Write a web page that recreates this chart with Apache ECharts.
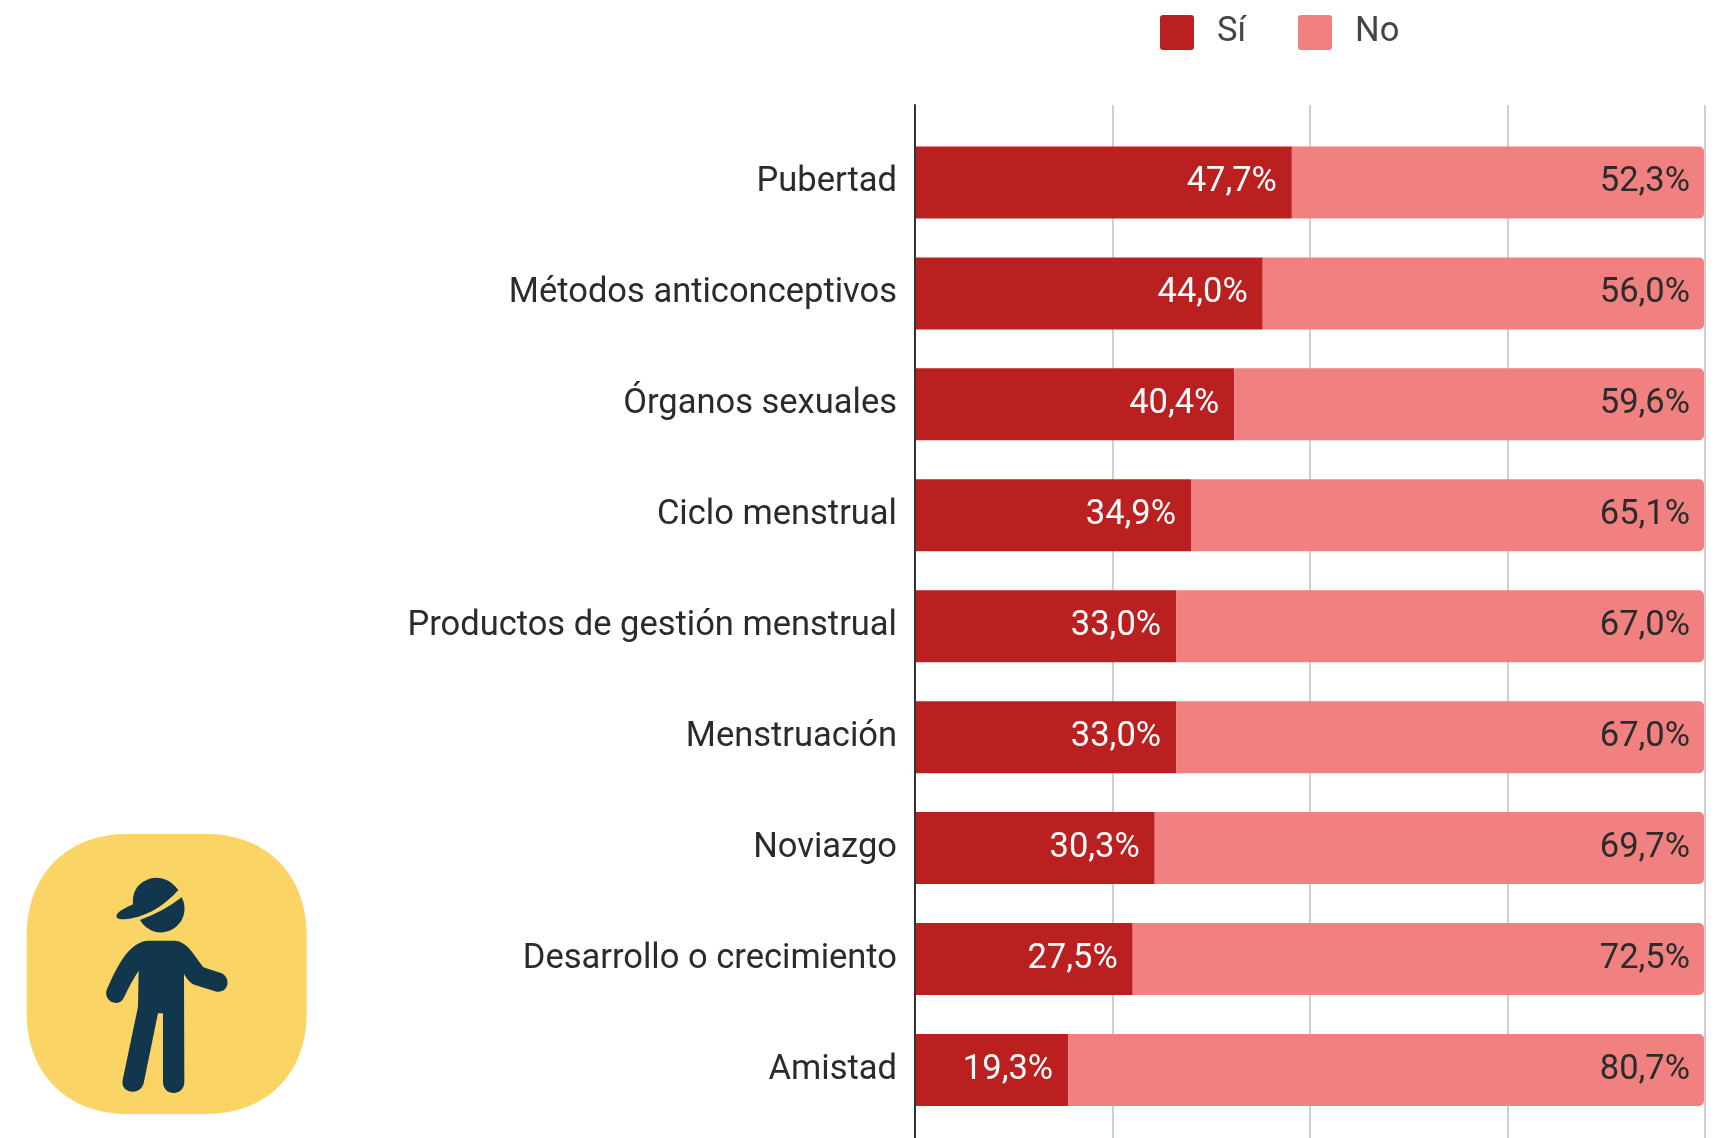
<!DOCTYPE html>
<html><head><meta charset="utf-8">
<style>html,body{margin:0;padding:0;background:#fff}#c{width:1729px;height:1138px}</style>
<script src="https://cdn.jsdelivr.net/npm/echarts@6/dist/echarts.min.js"></script>
</head><body><div id="c"></div>
<script>
const categories = ['Pubertad','Métodos anticonceptivos','Órganos sexuales','Ciclo menstrual','Productos de gestión menstrual','Menstruación','Noviazgo','Desarrollo o crecimiento','Amistad'];
const si = [47.7,44.0,40.4,34.9,33.0,33.0,30.3,27.5,19.3];
const no = [52.3,56.0,59.6,65.1,67.0,67.0,69.7,72.5,80.7];
const fmt = p => p.value.toFixed(1).replace('.', ',') + '%';
const font = 'Roboto';
const reg = (name, d) => echarts.graphic.registerShape(name, echarts.graphic.extendPath(d, {}));
reg('icoBg','M 380 72 L 620 72 C 800 72 920 195 920 375 L 920 610 C 920 790 800 912 620 912 L 380 912 C 200 912 80 790 80 610 L 80 375 C 80 195 200 72 380 72 Z');
reg('icoHead','M 545 262 A 68 68 0 1 1 420 330 Q 490 305 545 262 Z');
reg('icoCap','M 535 240 C 510 205 470 195 440 210 C 410 222 396 250 399 283 C 380 292 355 303 350 315 C 345 330 370 330 395 325 C 450 315 500 280 535 240 Z');
reg('icoBody','M 440 392 L 525 392 C 560 395 575 425 610 472 L 665 490 C 695 505 685 550 650 545 L 585 525 C 570 520 560 505 552 492 L 553 815 C 553 860 489 860 489 815 L 489 610 L 474 610 L 431 820 C 420 860 360 850 368 810 L 414 590 L 416 482 C 400 505 385 535 373 560 C 355 600 305 570 322 535 C 345 485 380 400 440 392 Z');
const chart = echarts.init(document.getElementById('c'));
chart.setOption({
  animation:false,
  textStyle:{fontFamily:font},
  legend:{left:1160,top:15,padding:0,itemWidth:34,itemHeight:35,itemGap:52,
    icon:'path://M3 0H31A3 3 0 0 1 34 3V32A3 3 0 0 1 31 35H3A3 3 0 0 1 0 32V3A3 3 0 0 1 3 0Z',
    textStyle:{fontSize:34.5,color:'#444',fontFamily:font,padding:[4,0,0,18]},data:['Sí','No']},
  grid:[
    {left:916,top:127,width:788,height:998.4},
    {left:915,top:105,width:790,height:1060}
  ],
  xAxis:[
    {gridIndex:0,type:'value',min:0,max:100,show:false},
    {gridIndex:1,type:'value',min:0,max:100,interval:25,axisLabel:{show:false},axisLine:{show:false},axisTick:{show:false},
     splitLine:{show:true,lineStyle:{color:'#cfcfcf',width:2}}}
  ],
  yAxis:[
    {gridIndex:0,type:'category',inverse:true,data:categories,axisLine:{show:false},axisTick:{show:false},
     axisLabel:{fontSize:34.5,color:'#2b2b2b',margin:19,fontFamily:font}},
    {gridIndex:1,type:'category',data:[''],axisLabel:{show:false},axisTick:{show:false},
     axisLine:{show:true,onZero:false,lineStyle:{color:'#333',width:2}},z:5}
  ],
  series:[
    {name:'Sí',type:'bar',stack:'t',data:si,barWidth:72,xAxisIndex:0,yAxisIndex:0,itemStyle:{color:'#BB2020'},
     label:{show:true,position:'insideRight',distance:15,color:'#fff',fontSize:34.5,fontFamily:font,formatter:fmt}},
    {name:'No',type:'bar',stack:'t',data:no,barWidth:72,xAxisIndex:0,yAxisIndex:0,itemStyle:{color:'#F18080',borderRadius:[0,5,5,0]},
     label:{show:true,position:'insideRight',distance:14,color:'#2b2b2b',fontSize:34.5,fontFamily:font,formatter:fmt}}
  ],
  graphic:[{type:'group',x:0,y:810,scaleX:1/3,scaleY:1/3,children:[
    {type:'icoBg',style:{fill:'#FAD565'}},
    {type:'icoHead',style:{fill:'#12364B'}},
    {type:'icoCap',style:{fill:'#12364B'}},
    {type:'icoBody',style:{fill:'#12364B'}}
  ]}]
});
</script></body></html>
